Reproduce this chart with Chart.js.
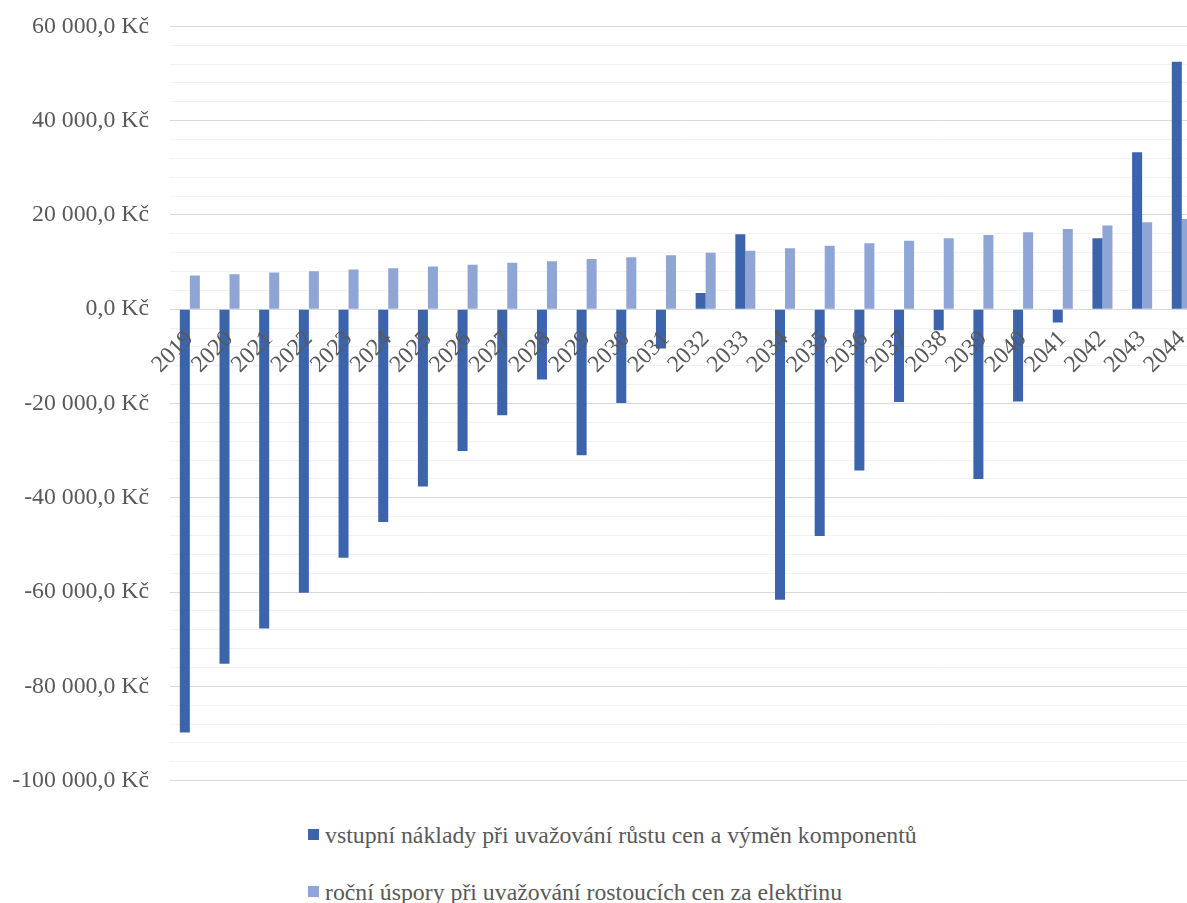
<!DOCTYPE html>
<html lang="cs">
<head>
<meta charset="utf-8">
<title>Náklady a úspory</title>
<script src="https://cdn.jsdelivr.net/npm/chart.js@4"></script>
<style>
    html, body { margin: 0; padding: 0; background: #fff; overflow: hidden; }
    #wrap { position: absolute; left: 0; top: -9px; width: 1218px; height: 825px; }
    #legend { position: absolute; left: 0; top: 0; color: #595959; }
    .item { position: absolute; white-space: nowrap; line-height: 24px; }
    .box { position: absolute; width: 11px; height: 11px; }
</style>
</head>
<body>
<div id="wrap"><canvas id="costChart"></canvas></div>
<div id="legend"></div>
<script>
// Categories and series
const years = ['2019', '2020', '2021', '2022', '2023', '2024', '2025', '2026', '2027', '2028',
    '2029', '2030', '2031', '2032', '2033', '2034', '2035', '2036', '2037', '2038',
    '2039', '2040', '2041', '2042', '2043', '2044'];

const costs = [-89750, -75200, -67700, -60150, -52700, -45150, -37600, -30080, -22500, -14900,
    -31000, -19900, -8350, 3460, 15900, -61600, -48100, -34200, -19700, -4460,
    -36000, -19600, -2800, 15050, 33300, 52500];

const savings = [7150, 7430, 7790, 8070, 8420, 8700, 9060, 9410, 9840, 10190,
    10620, 11040, 11460, 11960, 12380, 12950, 13450, 14010, 14500, 15070,
    15710, 16320, 17030, 17740, 18450, 19150];

const seriesLabels = [
    'vstupní náklady při uvažování růstu cen a výměn komponentů',
    'roční úspory při uvažování rostoucích cen za elektřinu'
];

const seriesColors = ['#3b64ad', '#8fa5d6'];

const yMin = -100000, yMax = 60000, yMajor = 20000, yMinor = 4000;

const fontFamily = "'Liberation Serif', Tinos, 'Times New Roman', 'DejaVu Serif', 'Noto Serif', serif";
const textColor = '#595959';

// the reference labels are Times-like; shrink the size if a wider serif is what we got
function fitFontSize() {
    const c = document.createElement('canvas').getContext('2d');
    c.font = '24px ' + fontFamily;
    const w = c.measureText('60 000,0 Kč').width;
    return Math.min(24, 24 * 117 / w);
}

// "60 000,0 Kč"
function formatKc(value) {
    const sign = value < 0 ? '-' : '';
    const digits = String(Math.abs(Math.round(value)));
    const grouped = digits.replace(/\B(?=(\d{3})+(?!\d))/g, ' ');
    return sign + grouped + ',0 Kč';
}

function createChart() {
    const fontSize = fitFontSize();
    const ctx = document.getElementById('costChart');
    const chart = new Chart(ctx, {
        type: 'bar',
        data: {
            labels: years,
            datasets: [{
                label: seriesLabels[0],
                data: costs,
                backgroundColor: seriesColors[0],
                borderWidth: 0
            }, {
                label: seriesLabels[1],
                data: savings,
                backgroundColor: seriesColors[1],
                borderWidth: 0
            }]
        },
        options: {
            responsive: true,
            maintainAspectRatio: false,
            animation: false,
            layout: {
                padding: 0
            },
            datasets: {
                bar: {
                    categoryPercentage: 0.505,
                    barPercentage: 1
                }
            },
            plugins: {
                legend: { display: false },
                tooltip: { enabled: false },
                title: { display: false }
            },
            scales: {
                x: {
                    position: { y: 0 },
                    grid: { display: false, drawTicks: false },
                    border: { display: true, color: '#d9d9d9', width: 1 },
                    ticks: {
                        autoSkip: false,
                        minRotation: 45,
                        maxRotation: 45,
                        padding: 16,
                        z: 1,
                        color: textColor,
                        font: { family: fontFamily, size: fontSize }
                    }
                },
                y: {
                    min: yMin,
                    max: yMax,
                    afterFit: function(scale) { scale.width = 170; },
                    border: { display: false },
                    grid: {
                        drawTicks: false,
                        color: function(c) {
                            return c.tick && c.tick.value % yMajor === 0 ? '#d9d9d9' : '#f2f2f2';
                        },
                        lineWidth: 1
                    },
                    ticks: {
                        stepSize: yMinor,
                        autoSkip: false,
                        padding: 21,
                        color: textColor,
                        font: { family: fontFamily, size: fontSize },
                        callback: function(value) {
                            return value % yMajor === 0 ? formatKc(value) : '';
                        }
                    }
                }
            }
        }
    });
    buildLegend(chart, fontSize);
}

// Legend below the chart, two rows aligned to the left
function buildLegend(chart, fontSize) {
    const legend = document.getElementById('legend');
    legend.style.fontFamily = fontFamily;
    legend.style.fontSize = fontSize + 'px';
    const rowTops = [823, 880];
    chart.data.datasets.forEach((ds, i) => {
        const box = document.createElement('span');
        box.className = 'box';
        box.style.background = ds.backgroundColor;
        box.style.left = '308px';
        box.style.top = (rowTops[i] + 6) + 'px';
        legend.appendChild(box);

        const item = document.createElement('span');
        item.className = 'item';
        item.textContent = ds.label;
        item.style.left = '325px';
        item.style.top = rowTops[i] + 'px';
        legend.appendChild(item);
    });
}

document.addEventListener('DOMContentLoaded', createChart);
</script>
</body>
</html>
